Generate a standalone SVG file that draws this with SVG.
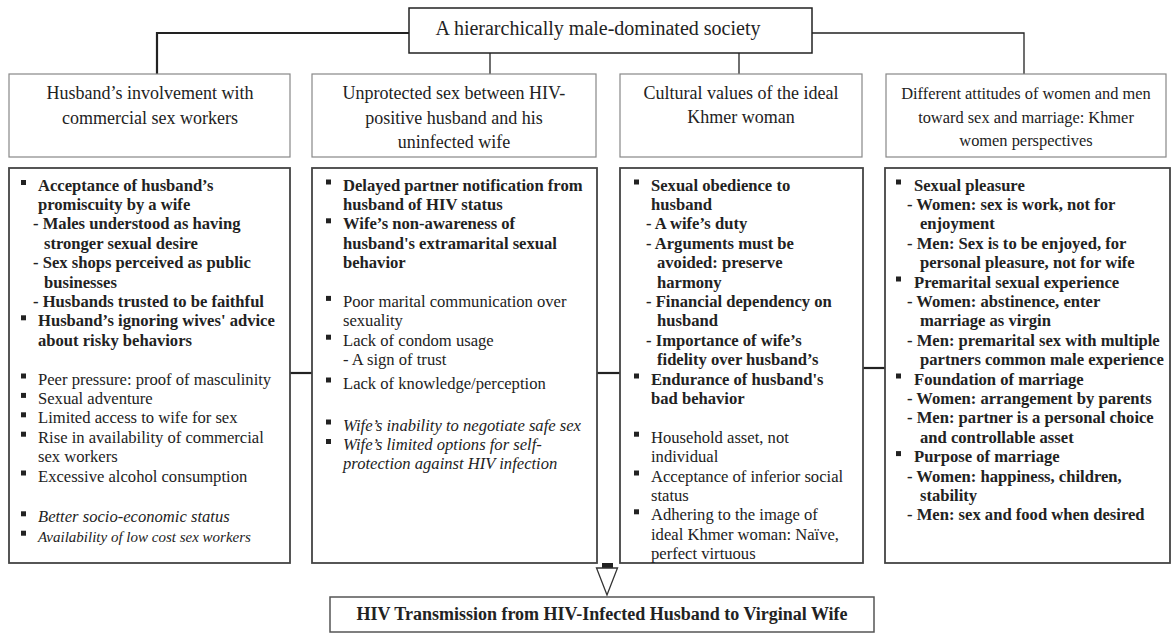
<svg xmlns="http://www.w3.org/2000/svg" width="1173" height="637" viewBox="0 0 1173 637">
<style>
text{font-family:"Liberation Serif","Times New Roman",serif;fill:#222}
.hd{font-size:18px;text-anchor:middle}
.hd4{font-size:16.4px;text-anchor:middle}
.b{font-size:16.6px;font-weight:bold}
.r{font-size:16.6px}
.i{font-size:16.6px;font-style:italic}
.i2{font-size:15px;font-style:italic}
.top{fill:#fff;stroke:#222;stroke-width:1.5}
.hbox{fill:#fff;stroke:#888;stroke-width:1.2}
.bbox{fill:#fff;stroke:#444;stroke-width:1.8}
.ln{stroke:#222;fill:none;stroke-width:1.3}
.lnb{stroke:#222;fill:none;stroke-width:2.2}
.bul{fill:#222}
</style>
<defs>
<rect id="bu" class="bul" x="0" y="-5" width="5" height="5"/>
</defs>
<g id="connectors">
<polyline class="lnb" points="409,33 157,33 157,74"/>
<polyline class="ln" points="812,33 1024,33 1024,74"/>
<line class="ln" x1="490" y1="53" x2="490" y2="74"/>
<line class="ln" x1="739" y1="53" x2="739" y2="74"/>
<line class="lnb" x1="290" y1="373" x2="312" y2="373"/>
<line class="lnb" x1="597" y1="373" x2="620" y2="373"/>
<line class="lnb" x1="863" y1="368" x2="885" y2="368"/>
<rect x="602" y="563" width="11" height="5" fill="#222"/>
<polygon points="596.5,568 617.5,568 607,595" fill="#fff" stroke="#333" stroke-width="1.3"/>
</g>
<g id="top">
<rect class="top" x="409" y="8" width="403" height="45"/>
<text x="598" y="35" style="font-size:20px;text-anchor:middle">A hierarchically male-dominated society</text>
</g>
<g id="h1">
<rect class="hbox" x="9" y="74" width="281" height="83"/>
<text class="hd" x="150" y="99">Husband’s involvement with</text>
<text class="hd" x="150" y="124">commercial sex workers</text>
</g>
<g id="h2">
<rect class="hbox" x="312" y="74" width="284" height="83"/>
<text class="hd" x="454" y="99">Unprotected sex between HIV-</text>
<text class="hd" x="454" y="124">positive husband and his</text>
<text class="hd" x="454" y="148">uninfected wife</text>
</g>
<g id="h3">
<rect class="hbox" x="620" y="74" width="242" height="83"/>
<text class="hd" x="741" y="99">Cultural values of the ideal</text>
<text class="hd" x="741" y="123">Khmer woman</text>
</g>
<g id="h4">
<rect class="hbox" x="886" y="74" width="280" height="83"/>
<text class="hd4" x="1026" y="99">Different attitudes of women and men</text>
<text class="hd4" x="1026" y="122.5">toward sex and marriage: Khmer</text>
<text class="hd4" x="1026" y="145.5">women perspectives</text>
</g>
<g id="b1">
<rect class="bbox" x="9" y="168" width="281" height="395"/>
<use href="#bu" x="21" y="185"/>
<text class="b" x="38" y="190.5">Acceptance of husband’s</text>
<text class="b" x="38" y="209.9">promiscuity by a wife</text>
<text class="b" x="33" y="229.3">- Males understood as having</text>
<text class="b" x="44" y="248.7">stronger sexual desire</text>
<text class="b" x="33" y="268.1">- Sex shops perceived as public</text>
<text class="b" x="44" y="287.5">businesses</text>
<text class="b" x="33" y="306.9">- Husbands trusted to be faithful</text>
<use href="#bu" x="21" y="320.3"/>
<text class="b" x="38" y="326.3">Husband’s ignoring wives' advice</text>
<text class="b" x="38" y="345.7">about risky behaviors</text>
<use href="#bu" x="21" y="378.5"/>
<text class="r" x="38" y="384.5">Peer pressure: proof of masculinity</text>
<use href="#bu" x="21" y="397.9"/>
<text class="r" x="38" y="403.9">Sexual adventure</text>
<use href="#bu" x="21" y="417.3"/>
<text class="r" x="38" y="423.3">Limited access to wife for sex</text>
<use href="#bu" x="21" y="436.7"/>
<text class="r" x="38" y="442.7">Rise in availability of commercial</text>
<text class="r" x="38" y="462.1">sex workers</text>
<use href="#bu" x="21" y="475.5"/>
<text class="r" x="38" y="481.5">Excessive alcohol consumption</text>
<use href="#bu" x="21" y="516.3"/>
<text class="i" x="38" y="522.3">Better socio-economic status</text>
<use href="#bu" x="21" y="535.7"/>
<text class="i2" x="38" y="541.7">Availability of low cost sex workers</text>
</g>
<g id="b2">
<rect class="bbox" x="312" y="168" width="285" height="395"/>
<use href="#bu" x="326" y="184.5"/>
<text class="b" x="343" y="190.5">Delayed partner notification from</text>
<text class="b" x="343" y="209.9">husband of HIV status</text>
<use href="#bu" x="326" y="223.3"/>
<text class="b" x="343" y="229.3">Wife’s non-awareness of</text>
<text class="b" x="343" y="248.7">husband's extramarital sexual</text>
<text class="b" x="343" y="268.1">behavior</text>
<use href="#bu" x="326" y="300.9"/>
<text class="r" x="343" y="306.9">Poor marital communication over</text>
<text class="r" x="343" y="326.3">sexuality</text>
<use href="#bu" x="326" y="339.7"/>
<text class="r" x="343" y="345.7">Lack of condom usage</text>
<text class="r" x="343" y="365.1">- A sign of trust</text>
<use href="#bu" x="326" y="382.5"/>
<text class="r" x="343" y="388.5">Lack of knowledge/perception</text>
<use href="#bu" x="326" y="424.5"/>
<text class="i" x="343" y="430.5">Wife’s inability to negotiate safe sex</text>
<use href="#bu" x="326" y="444"/>
<text class="i" x="343" y="450">Wife’s limited options for self-</text>
<text class="i" x="343" y="469">protection against HIV infection</text>
</g>
<g id="b3">
<rect class="bbox" x="620" y="168" width="243" height="395"/>
<use href="#bu" x="634" y="184.5"/>
<text class="b" x="651" y="190.5">Sexual obedience to</text>
<text class="b" x="651" y="209.9">husband</text>
<text class="b" x="646" y="229.3">- A wife’s duty</text>
<text class="b" x="646" y="248.7">- Arguments must be</text>
<text class="b" x="657" y="268.1">avoided: preserve</text>
<text class="b" x="657" y="287.5">harmony</text>
<text class="b" x="646" y="306.9">- Financial dependency on</text>
<text class="b" x="657" y="326.3">husband</text>
<text class="b" x="646" y="345.7">- Importance of wife’s</text>
<text class="b" x="657" y="365.1">fidelity over husband’s</text>
<use href="#bu" x="634" y="378.5"/>
<text class="b" x="651" y="384.5">Endurance of husband's</text>
<text class="b" x="651" y="403.9">bad behavior</text>
<use href="#bu" x="634" y="436.7"/>
<text class="r" x="651" y="442.7">Household asset, not</text>
<text class="r" x="651" y="462.1">individual</text>
<use href="#bu" x="634" y="475.5"/>
<text class="r" x="651" y="481.5">Acceptance of inferior social</text>
<text class="r" x="651" y="500.9">status</text>
<use href="#bu" x="634" y="514.3"/>
<text class="r" x="651" y="520.3">Adhering to the image of</text>
<text class="r" x="651" y="539.7">ideal Khmer woman: Naïve,</text>
<text class="r" x="651" y="559.1">perfect virtuous</text>
</g>
<g id="b4">
<rect class="bbox" x="885" y="168" width="285" height="395"/>
<use href="#bu" x="896" y="184.5"/>
<text class="b" x="914" y="190.5">Sexual pleasure</text>
<text class="b" x="907" y="209.9">- Women: sex is work, not for</text>
<text class="b" x="920" y="229.3">enjoyment</text>
<text class="b" x="907" y="248.7">- Men: Sex is to be enjoyed, for</text>
<text class="b" x="920" y="268.1">personal pleasure, not for wife</text>
<use href="#bu" x="896" y="281.5"/>
<text class="b" x="914" y="287.5">Premarital sexual experience</text>
<text class="b" x="907" y="306.9">- Women: abstinence, enter</text>
<text class="b" x="920" y="326.3">marriage as virgin</text>
<text class="b" x="907" y="345.7">- Men: premarital sex with multiple</text>
<text class="b" x="920" y="365.1">partners common male experience</text>
<use href="#bu" x="896" y="378.5"/>
<text class="b" x="914" y="384.5">Foundation of marriage</text>
<text class="b" x="907" y="403.9">- Women: arrangement by parents</text>
<text class="b" x="907" y="423.3">- Men: partner is a personal choice</text>
<text class="b" x="920" y="442.7">and controllable asset</text>
<use href="#bu" x="896" y="456.1"/>
<text class="b" x="914" y="462.1">Purpose of marriage</text>
<text class="b" x="907" y="481.5">- Women: happiness, children,</text>
<text class="b" x="920" y="500.9">stability</text>
<text class="b" x="907" y="520.3">- Men: sex and food when desired</text>
</g>
<g id="bottom">
<rect x="330" y="597" width="544" height="35" fill="#fff" stroke="#555" stroke-width="1.5"/>
<text x="602" y="620" style="font-size:18px;font-weight:bold;text-anchor:middle">HIV Transmission from HIV-Infected Husband to Virginal Wife</text>
</g>
</svg>
